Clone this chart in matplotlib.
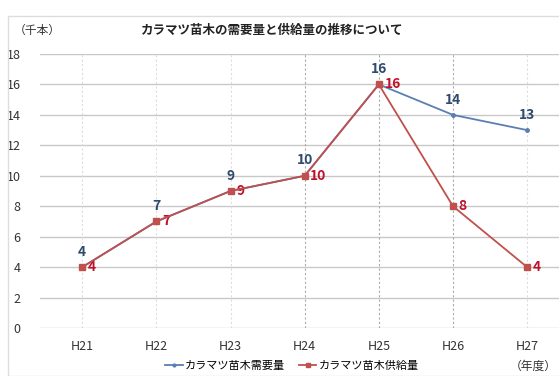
import matplotlib
matplotlib.use('Agg')
import matplotlib.pyplot as plt
from matplotlib.patches import Rectangle

plt.rcParams['font.family'] = ['Noto Sans CJK JP', 'DejaVu Sans']

# data
years = ['H21', 'H22', 'H23', 'H24', 'H25', 'H26', 'H27']
demand = [4, 7, 9, 10, 16, 14, 13]
supply = [4, 7, 9, 10, 16, 8, 4]

blue = '#5b7fb3'
red = '#c0504d'
label_blue = '#2f4a6d'
label_red = '#c0102a'

fig = plt.figure(figsize=(5.59, 3.76), dpi=100)
ax = fig.add_axes([40 / 559, 1 - 328 / 376, 1 - 40 / 559, (328 - 54) / 376])

x = list(range(len(years)))
ax.plot(x, demand, color=blue, lw=1.3, marker='o', ms=2.5, label='カラマツ苗木需要量', zorder=3)
ax.plot(x, supply, color=red, lw=1.3, marker='s', ms=4, label='カラマツ苗木供給量', zorder=4)

for i, v in enumerate(demand):
    ax.annotate(str(v), (i, v), xytext=(0, 6), textcoords='offset points',
                ha='center', va='bottom', color=label_blue, fontsize=10, fontweight='bold')
for i, v in enumerate(supply):
    ax.annotate(str(v), (i, v), xytext=(4, 0), textcoords='offset points',
                ha='left', va='center', color=label_red, fontsize=10, fontweight='bold')

ax.set_xlim(-0.57, 6.43)
ax.set_ylim(0, 18)
ax.set_yticks(range(0, 19, 2))
ax.set_xticks(x)
ax.set_xticklabels(years)
ax.tick_params(length=0, labelsize=9, colors='#333333')
ax.tick_params(axis='x', pad=9)
ax.tick_params(axis='y', pad=14)
ax.grid(axis='y', color='#c8c8c8', lw=1)
for i in x:
    c = '#aaaaaa' if i in (3, 4, 5) else '#dddddd'
    ax.axvline(i, color=c, lw=0.8, ls=(0, (2, 2)), zorder=1)
for s in ax.spines.values():
    s.set_visible(False)
ax.set_axisbelow(True)

fig.text(272 / 559, 1 - 30 / 376, 'カラマツ苗木の需要量と供給量の推移について',
         ha='center', va='center', fontsize=9, fontweight='bold', color='#222222')
fig.text(14 / 559, 1 - 30 / 376, '（千本）', ha='left', va='center', fontsize=8.5, color='#333333')
fig.text(557 / 559, 1 - 366 / 376, '（年度）', ha='right', va='center', fontsize=8.5, color='#333333')

fig.legend(loc='center', bbox_to_anchor=(292 / 559, 1 - 366 / 376), ncol=2, frameon=False,
           fontsize=8, handlelength=1.6, columnspacing=1.2, handletextpad=0.2, markerscale=0.8)

fig.patches.append(Rectangle((8 / 559, 0), 1, 1 - 16 / 376, transform=fig.transFigure,
                             fill=False, edgecolor='#dddddd', lw=1))

fig.savefig('out.png', dpi=100)
